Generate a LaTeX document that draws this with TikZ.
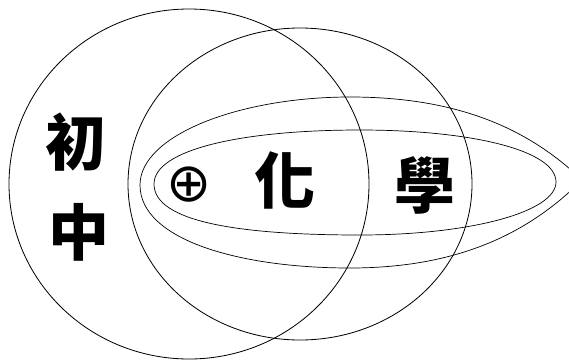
\documentclass[tikz,border=0pt]{standalone}
\usepackage{fontspec}
\newfontfamily\cjkfont{Noto Sans CJK TC}
\newfontfamily\symfont{DejaVu Sans}

\begin{document}
\begin{tikzpicture}[x=0.03cm, y=-0.03cm,
  ring/.style={draw, line width=0.7pt},
  egg/.style={draw, line width=0.6pt},
  zi/.style={font=\cjkfont\bfseries\fontsize{52}{52}\selectfont, inner sep=0pt},
  fu/.style={font=\symfont\fontsize{46}{46}\selectfont, inner sep=0pt}]
\useasboundingbox (0,0) rectangle (569,361);
\clip (0,0) rectangle (569,361);

% the two big rings
\draw[ring] (189,184) ellipse [x radius=180, y radius=175];
\draw[ring] (300,184) ellipse [x radius=172, y radius=156];

% outer egg, tip runs off the right edge
\draw[egg] (140,185) .. controls (140,135) and (240,97) .. (350,97)
  .. controls (460,97) and (530,130) .. (582,180)
  .. controls (530,232) and (460,268) .. (350,268)
  .. controls (240,268) and (140,240) .. (140,185) -- cycle;

% inner egg
\draw[egg] (154,184) .. controls (154,150) and (240,130) .. (360,130)
  .. controls (470,130) and (556,150) .. (556,182)
  .. controls (556,212) and (470,235) .. (360,235)
  .. controls (240,235) and (154,222) .. (154,184) -- cycle;

\node[zi] (chu)   at (76,142)  {初};
\node[zi] (zhong) at (79,232)  {中};
\node[fu] (plus)  at (189,185) {⊕};
\node[zi] (hua)   at (285,180) {化};
\node[zi] (xue)   at (425,185) {學};
\end{tikzpicture}
\end{document}
